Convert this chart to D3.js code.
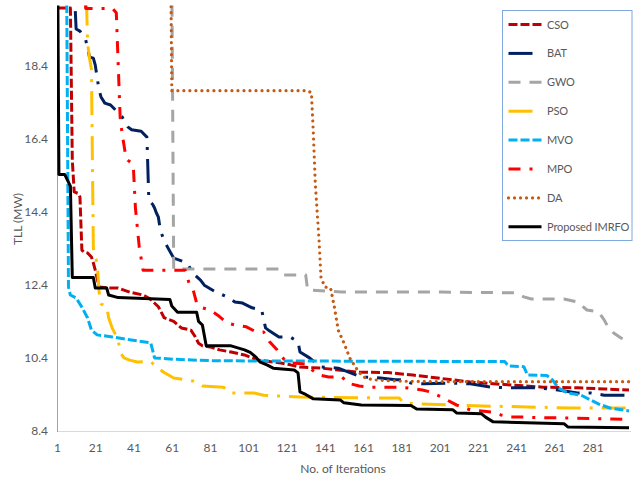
<!DOCTYPE html>
<html>
<head>
<meta charset="utf-8">
<script src="https://cdn.jsdelivr.net/npm/d3@7/dist/d3.min.js"></script>
<style>
  html, body { margin: 0; padding: 0; background: #ffffff; }
  svg { display: block; }
  text { font-family: Lato, "Open Sans", "Liberation Sans", sans-serif; fill: #595959; }
</style>
</head>
<body>
<svg id="chart" width="633" height="482"></svg>
<script>
// Convergence of total line losses (MW) over the iterations, one series per algorithm.
// Each series is a list of [iteration, TLL] breakpoints; values above 20 run off the plot.
const seriesNames = ["CSO", "BAT", "GWO", "PSO", "MVO", "MPO", "DA", "Proposed IMRFO"];

const cso = [[1,19.97],[8,19.97],[9,15.8],[10,14.94],[12,14.9],[13,14.8],[14,13.35],[15,13.3],[17,13.27],[19,13.16],[20,13.0],[21,12.8],[23,12.34],[28,12.31],[33,12.31],[39,12.2],[46,12.12],[50,12.0],[54,11.8],[57,11.5],[62,11.4],[66,11.22],[71,11.16],[73,11.0],[75,10.8],[77,10.73],[81,10.7],[86,10.62],[92,10.56],[99,10.48],[106,10.34],[118,10.26],[123,10.21],[128,10.15],[139,10.12],[148,10.07],[158,10.01],[174,10.0],[187,9.93],[200,9.85],[217,9.74],[238,9.66],[255,9.6],[273,9.58],[287,9.55],[300,9.52]];

const bat = [[1,26],[9,24],[10,20.5],[11,19.4],[13,19.34],[16,19.1],[17,18.88],[18,18.63],[20,18.6],[21,18.41],[22,18.06],[23,17.73],[24,17.54],[26,17.37],[29,17.32],[35,17.0],[38,16.72],[40,16.64],[45,16.6],[48,16.44],[49,14.72],[51,14.6],[52,14.5],[53,14.36],[54,14.25],[55,13.9],[57,13.6],[59,13.41],[62,13.13],[69,13.0],[72,12.72],[76,12.53],[78,12.39],[84,12.2],[90,12.07],[94,11.93],[98,11.9],[103,11.77],[108,11.71],[110,11.22],[112,11.14],[117,10.97],[123,10.97],[127,10.84],[128,10.56],[133,10.4],[139,10.15],[148,10.12],[160,9.88],[170,9.85],[178,9.8],[182,9.8],[186,9.71],[193,9.69],[207,9.71],[217,9.69],[228,9.6],[240,9.58],[252,9.58],[263,9.52],[273,9.44],[280,9.44],[287,9.38],[300,9.38]];

const gwo = [[1,27],[60,25],[61,21],[62,12.83],[117,12.83],[119,12.67],[131,12.67],[132,12.26],[150,12.2],[202,12.2],[241,12.18],[245,12.07],[249,12.01],[266,12.01],[273,11.93],[278,11.71],[284,11.66],[287,11.44],[289,11.25],[292,11.08],[296,10.94],[300,10.89]];

const pso = [[1,25],[16,21],[17,19.0],[18,18.6],[19,18.3],[20,13.4],[21,13.16],[22,13.0],[23,12.2],[24,11.88],[27,11.8],[28,11.5],[30,11.2],[33,10.9],[34,10.55],[36,10.4],[39,10.34],[43,10.29],[50,10.3],[53,10.15],[57,10.0],[62,9.85],[72,9.77],[77,9.63],[88,9.6],[91,9.44],[104,9.44],[109,9.38],[116,9.36],[128,9.33],[180,9.3],[182,9.17],[190,9.14],[228,9.08],[270,9.03],[300,9.03]];

const mvo = [[1,25],[6,21],[7,12.34],[8,12.12],[11,12.04],[14,11.79],[17,11.49],[19,11.16],[22,11.03],[30,10.97],[50,10.81],[52,10.4],[63,10.36],[84,10.32],[235,10.3],[237,10.18],[245,10.16],[247,9.93],[257,9.92],[260,9.8],[263,9.58],[268,9.44],[275,9.38],[284,9.14],[290,9.03],[300,8.95]];

const mpo = [[1,30],[15,21],[16,19.96],[30,19.96],[32,19.84],[34,17.0],[35,16.55],[37,15.9],[38,15.81],[40,15.73],[41,15.54],[42,14.5],[44,13.43],[46,12.8],[68,12.8],[70,12.45],[72,12.3],[74,11.9],[77,11.77],[81,11.71],[85,11.57],[90,11.35],[94,11.3],[100,11.25],[105,11.11],[109,11.11],[112,10.85],[116,10.62],[117,10.53],[120,10.34],[124,10.26],[131,10.23],[133,10.12],[138,9.93],[143,9.88],[150,9.88],[153,9.71],[159,9.63],[164,9.6],[181,9.6],[192,9.52],[196,9.47],[202,9.33],[207,9.19],[210,9.11],[217,8.98],[223,8.95],[228,8.92],[233,8.84],[238,8.78],[245,8.78],[257,8.76],[265,8.76],[291,8.73],[300,8.72]];

const da = [[1,28],[60,24],[61,17.71],[132,17.71],[134,17.65],[135,16.55],[136,15.19],[137,14.4],[138,13.6],[139,12.6],[141,12.34],[144,12.31],[146,11.79],[148,11.16],[151,10.81],[154,10.4],[158,10.07],[161,9.88],[166,9.8],[174,9.78],[184,9.76],[207,9.75],[300,9.75]];

const imrfo = [[1,24],[2,15.42],[5,15.42],[8,15.1],[9,12.6],[20,12.6],[21,12.31],[27,12.31],[28,12.12],[33,12.05],[60,12.0],[61,11.82],[64,11.65],[74,11.65],[75,11.4],[77,11.3],[79,10.73],[92,10.73],[99,10.62],[102,10.55],[105,10.42],[107,10.29],[111,10.2],[114,10.12],[125,10.07],[127,9.99],[128,9.47],[131,9.4],[135,9.28],[149,9.25],[151,9.17],[160,9.11],[186,9.1],[189,9.0],[208,8.98],[210,8.89],[223,8.87],[225,8.78],[229,8.65],[266,8.6],[268,8.51],[300,8.49]];

const seriesValues = [cso, bat, gwo, pso, mvo, mpo, da, imrfo];

const xTickLabels = [1, 21, 41, 61, 81, 101, 121, 141, 161, 181, 201, 221, 241, 261, 281];
const yTickLabels = [8.4, 10.4, 12.4, 14.4, 16.4, 18.4];

// Stroke styles per series (same order as seriesNames)
const seriesStyles = [
  { color: "#C00000", dash: "9,3",            cap: "butt"  },
  { color: "#002060", dash: "24,9,3,9",       cap: "butt"  },
  { color: "#A5A5A5", dash: "12,9",           cap: "butt"  },
  { color: "#FFC000", dash: "24,9,3,9",       cap: "butt"  },
  { color: "#00B0F0", dash: "9,3",            cap: "butt"  },
  { color: "#FF0000", dash: "12,9,3,9",       cap: "butt"  },
  { color: "#C55A11", dash: "0.01,6",         cap: "round" },
  { color: "#000000", dash: null,             cap: "butt"  }
];

const fontStack = 'Lato, "Open Sans", "Liberation Sans", sans-serif';
const svg = d3.select("#chart");
const plot = { left: 57, right: 629, top: 7, bottom: 431 };

const x = d3.scaleLinear().domain([1, 300]).range([plot.left, plot.right]);
const y = d3.scaleLinear().domain([8.4, 20]).range([plot.bottom, plot.top]);

// Clip region for the series (lines leaving the top are cut off)
svg.append("defs").append("clipPath").attr("id", "plotClip")
  .append("rect")
  .attr("x", plot.left).attr("y", plot.top - 1.6)
  .attr("width", plot.right - plot.left + 4)
  .attr("height", plot.bottom - plot.top + 1.6);

// Axis lines
svg.append("line")
  .attr("x1", plot.left).attr("x2", plot.right + 2)
  .attr("y1", plot.bottom + 0.5).attr("y2", plot.bottom + 0.5)
  .attr("stroke", "#D9D9D9").attr("stroke-width", 1);
svg.append("line")
  .attr("x1", plot.left + 0.5).attr("x2", plot.left + 0.5)
  .attr("y1", plot.top).attr("y2", plot.bottom + 1)
  .attr("stroke", "#7FA8DC").attr("stroke-width", 1);

// Tick labels via d3 axes (no domain path, no tick lines)
const xAxis = d3.axisBottom(x).tickValues(xTickLabels).tickSize(0).tickPadding(12).tickFormat(d3.format("d"));
const gx = svg.append("g").attr("transform", `translate(0,${plot.bottom})`).call(xAxis);
gx.select(".domain").remove();
gx.selectAll("text").attr("font-size", 12).style("fill", "#595959").style("font-family", fontStack);

const yAxis = d3.axisLeft(y).tickValues(yTickLabels).tickSize(0).tickPadding(9).tickFormat(d3.format(".1f"));
const gy = svg.append("g").attr("transform", `translate(${plot.left},0)`).call(yAxis);
gy.select(".domain").remove();
gy.selectAll("text").attr("font-size", 12).style("fill", "#595959").style("font-family", fontStack);

// Axis titles
svg.append("text")
  .attr("x", (plot.left + plot.right) / 2).attr("y", 473)
  .attr("text-anchor", "middle").attr("font-size", 12)
  .text("No. of Iterations");
svg.append("text")
  .attr("transform", `translate(22,${(plot.top + plot.bottom) / 2}) rotate(-90)`)
  .attr("text-anchor", "middle").attr("font-size", 12)
  .text("TLL (MW)");

// Series
const line = d3.line().x(d => x(d[0])).y(d => y(d[1]));
const gSeries = svg.append("g").attr("clip-path", "url(#plotClip)");
seriesValues.forEach((vals, k) => {
  const st = seriesStyles[k];
  gSeries.append("path")
    .datum(vals)
    .attr("d", line)
    .attr("fill", "none")
    .attr("stroke", st.color)
    .attr("stroke-width", k === 6 ? 3.2 : 3)
    .attr("stroke-dasharray", st.dash)
    .attr("stroke-linecap", st.cap)
    .attr("stroke-linejoin", "round");
});

// Legend
const legend = svg.append("g");
legend.append("rect")
  .attr("x", 502.5).attr("y", 10.5).attr("width", 129.5).attr("height", 230)
  .attr("fill", "#ffffff").attr("stroke", "#7FA8DC").attr("stroke-width", 1);
seriesNames.forEach((name, k) => {
  const st = seriesStyles[k];
  const cy = 24.5 + k * 28.9;
  legend.append("line")
    .attr("x1", 508.5).attr("x2", 541.5).attr("y1", cy).attr("y2", cy)
    .attr("stroke", st.color).attr("stroke-width", k === 6 ? 3.2 : 3)
    .attr("stroke-dasharray", st.dash).attr("stroke-linecap", st.cap);
  legend.append("text")
    .attr("x", 547).attr("y", cy + 4).attr("font-size", 11)
    .attr("letter-spacing", -0.1)
    .text(name);
});
</script>
</body>
</html>
